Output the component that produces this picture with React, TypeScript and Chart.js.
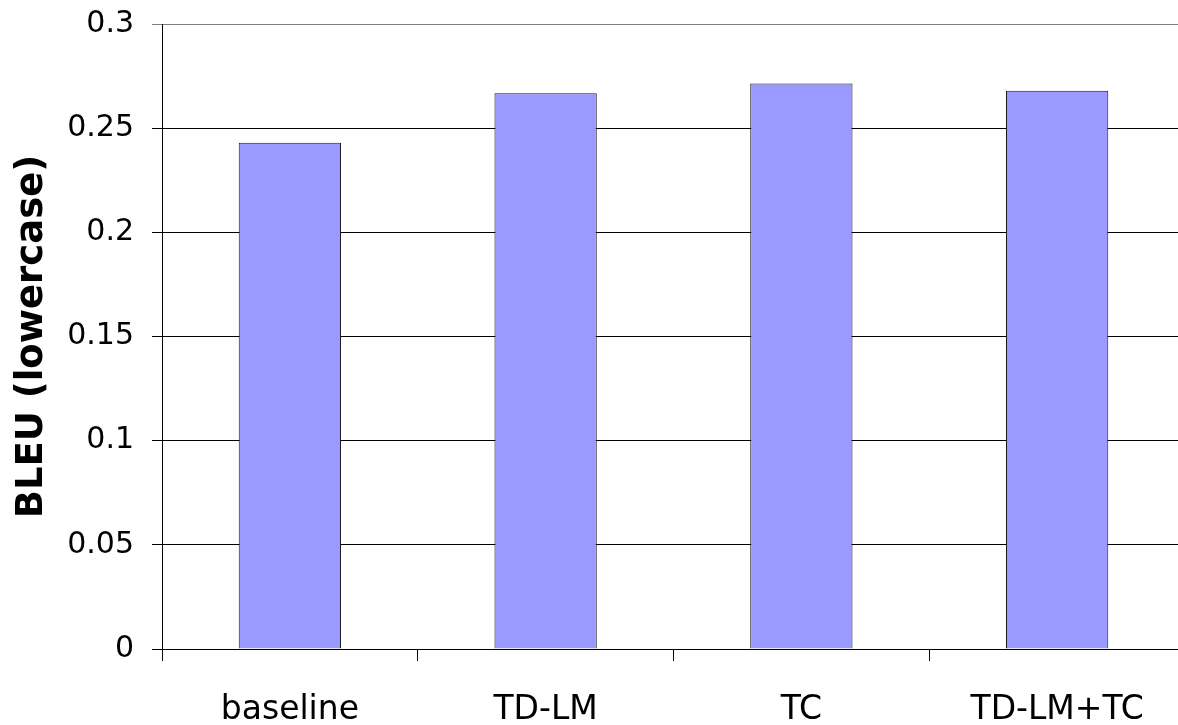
import React, { useEffect, useRef } from "react";
import { Chart, registerables } from "chart.js";

Chart.register(...registerables);

const categories = ["baseline", "TD-LM", "TC", "TD-LM+TC"];
const bleuValues = [0.243, 0.2668, 0.2715, 0.268];
const yTickValues = [0, 0.05, 0.1, 0.15, 0.2, 0.25, 0.3];
const yAxisTitle = "BLEU (lowercase)";

export default function App() {
  const canvasRef = useRef<HTMLCanvasElement | null>(null);

  useEffect(() => {
    const canvas = canvasRef.current;
    if (!canvas) return;
    const chart = new Chart(canvas, {
      type: "bar",
      data: {
        labels: categories,
        datasets: [
          {
            data: bleuValues,
            backgroundColor: "#9999FF",
            borderColor: "#1a1a1a",
            borderWidth: 1,
            barPercentage: 0.4,
            categoryPercentage: 1,
          },
        ],
      },
      options: {
        responsive: false,
        animation: false,
        devicePixelRatio: 1,
        layout: { padding: { top: 24, right: 15, left: 0, bottom: 0 } },
        plugins: {
          legend: { display: false },
          tooltip: { enabled: false },
        },
        scales: {
          x: {
            offset: true,
            grid: {
              display: true,
              drawOnChartArea: false,
              drawTicks: true,
              tickLength: 12,
              offset: true,
              color: "#000000",
            },
            border: { display: true, color: "#000000", width: 1 },
            ticks: {
              color: "#000000",
              padding: 30,
              font: { family: "DejaVu Sans", size: 33 },
              maxRotation: 0,
              autoSkip: false,
            },
            afterFit: (scale: any) => {
              scale.height = 76;
            },
          },
          y: {
            min: 0,
            max: 0.3,
            afterBuildTicks: (scale: any) => {
              scale.ticks = yTickValues.map((v) => ({ value: v }));
            },
            grid: {
              color: (ctx: any) =>
                ctx.tick && ctx.tick.value === 0.3 ? "#808080" : "#000000",
              drawTicks: true,
              tickLength: 10,
              lineWidth: 1,
            },
            border: { display: true, color: "#000000", width: 1 },
            ticks: {
              color: "#000000",
              padding: 18,
              font: { family: "DejaVu Sans", size: 30 },
              callback: (v: any) => String(Number(Number(v).toFixed(2))),
            },
            title: {
              display: true,
              text: yAxisTitle,
              color: "#000000",
              font: { family: "DejaVu Sans", size: 37, weight: "bold" },
              padding: { top: 10, bottom: 0 },
            },
            afterFit: (scale: any) => {
              scale.width = 162;
              scale.paddingTop = 0;
              scale.paddingBottom = 0;
            },
          },
        },
      },
    });
    return () => chart.destroy();
  }, []);

  return (
    <div
      style={{
        position: "fixed",
        left: 0,
        top: 0,
        width: "1178px",
        height: "725px",
        overflow: "hidden",
        background: "#ffffff",
      }}
    >
      <canvas ref={canvasRef} width={1200} height={725} style={{ display: "block" }} />
    </div>
  );
}
